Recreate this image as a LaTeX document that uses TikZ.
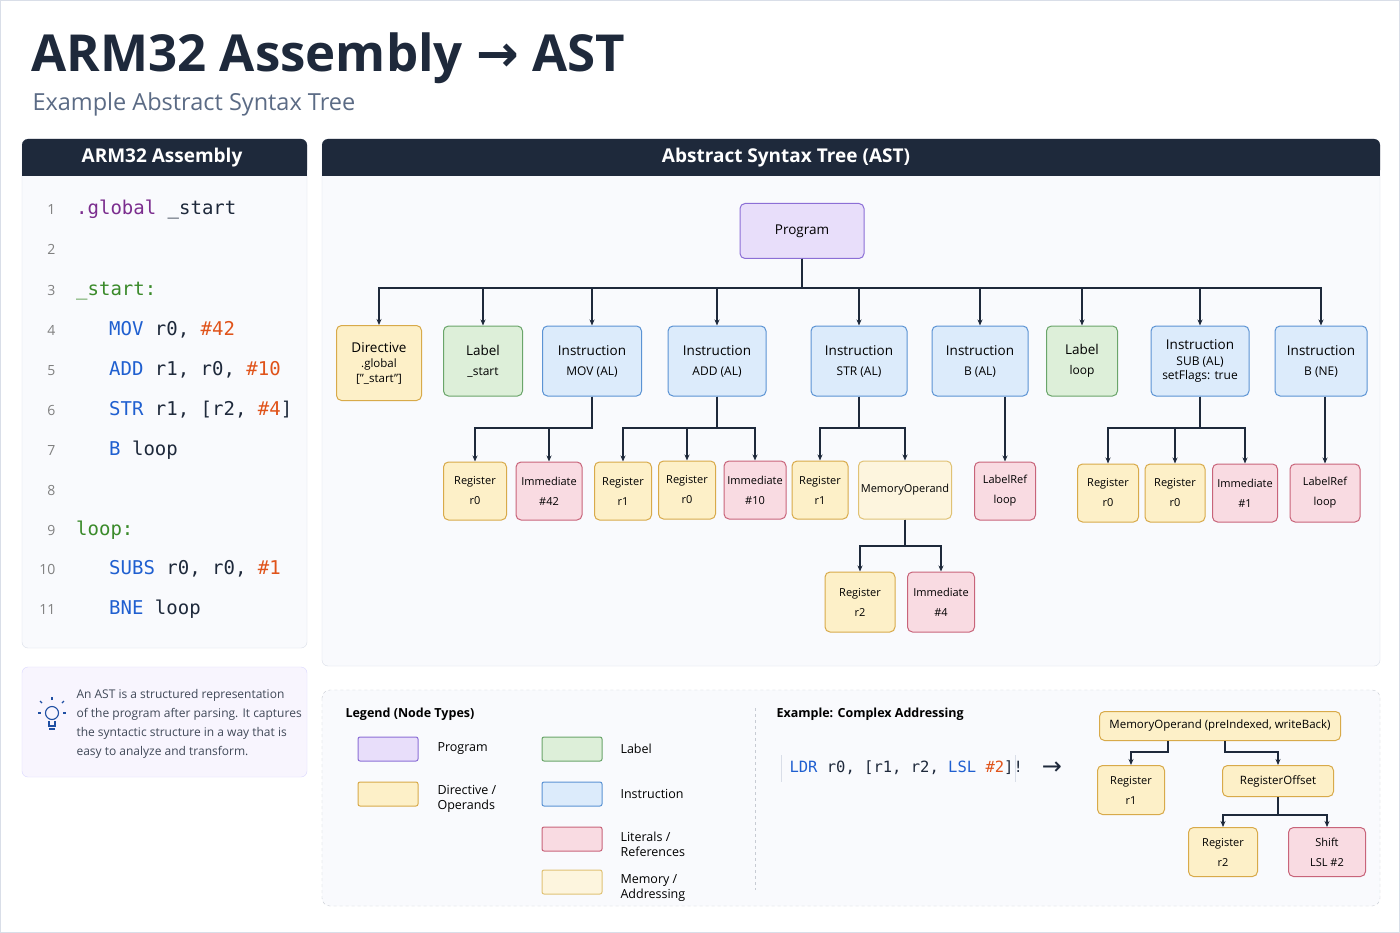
\documentclass[tikz,border=0pt]{standalone}
\usepackage{fontspec}
\setmainfont{Open Sans}
\setmonofont{DejaVu Sans Mono}
\newfontfamily\arrf{DejaVu Sans}
\usetikzlibrary{arrows.meta}
\definecolor{navy}{HTML}{1E293B}
\definecolor{sub}{HTML}{5B6B85}
\definecolor{yF}{HTML}{FDF0C8}\definecolor{yB}{HTML}{D8AA4A}
\definecolor{gF}{HTML}{DDEFD9}\definecolor{gB}{HTML}{6AA56A}
\definecolor{bF}{HTML}{DCEBFB}\definecolor{bB}{HTML}{5B93D4}
\definecolor{pF}{HTML}{F9DBE2}\definecolor{pB}{HTML}{C8647A}
\definecolor{mF}{HTML}{FDF5DE}\definecolor{mB}{HTML}{E0C275}
\definecolor{vF}{HTML}{E8DEFA}\definecolor{vB}{HTML}{8C6FD6}
\definecolor{cDir}{HTML}{7B2D8E}\definecolor{cLab}{HTML}{3A8A2A}
\definecolor{cMn}{HTML}{1F5FD0}\definecolor{cImm}{HTML}{E0531A}
\definecolor{panel}{HTML}{F9FAFD}\definecolor{pline}{HTML}{D9DEE8}
\tikzset{
 box/.style={draw=#1B, fill=#1F, rounded corners=5pt, line width=1pt, align=center, text=black, inner sep=1pt},
 t1/.style={font=\fontsize{13.5}{18}\selectfont},
 t2/.style={font=\fontsize{11}{20}\selectfont},
 arr/.style={draw=navy, line width=1.1pt, -{Stealth[length=6pt,width=5pt]}},
 lnum/.style={anchor=base east, text=gray, font=\fontsize{14}{14}\selectfont},
 code/.style={anchor=base west, inner sep=0pt, font=\ttfamily\fontsize{19}{19}\selectfont, text=navy},
 leg/.style={anchor=west, font=\fontsize{12.5}{15}\selectfont, align=left},
 sw/.style={draw=#1B, fill=#1F, rounded corners=2pt, line width=1pt, minimum width=60pt, minimum height=24pt},
}
\begin{document}
\begin{tikzpicture}[x=1pt,y=-1pt]
\useasboundingbox (0,0) rectangle (1400,933);
\fill[white] (0,0) rectangle (1400,933);
\draw[pline] (0.5,0.5) rectangle (1399.5,932.5);
% title
\node[anchor=base west, font=\bfseries\fontsize{51}{60}\selectfont, text=navy] (title) at (28,72) {ARM32 Assembly {\arrf →} AST};
\node[anchor=base west, font=\fontsize{23.5}{26}\selectfont, text=sub] (subt) at (29,111) {Example Abstract Syntax Tree};
% left panel
\draw[pline, fill=panel, rounded corners=6pt] (22,139) rectangle (307,648);
\fill[navy, rounded corners=6pt] (22,139) rectangle (307,176);
\fill[navy] (22,160) rectangle (307,176);
\node[text=white, font=\bfseries\fontsize{19}{22}\selectfont] (lh) at (162,158) {ARM32 Assembly};
\foreach \n/\y in {1/215,2/255,3/295,4/335,5/375,6/415,7/455,8/495,9/535,10/574,11/614}
  \node[lnum] (ln\n) at (59,\y) {\n};
\node[code] (c1) at (76,215) {\textcolor{cDir}{.global} \_start};
\node[code] (c3) at (76,295) {\textcolor{cLab}{\_start:}};
\node[code] (c4) at (109,335) {\textcolor{cMn}{MOV} r0, \textcolor{cImm}{\#42}};
\node[code] (c5) at (109,375) {\textcolor{cMn}{ADD} r1, r0, \textcolor{cImm}{\#10}};
\node[code] (c6) at (109,415) {\textcolor{cMn}{STR} r1, [r2, \textcolor{cImm}{\#4}]};
\node[code] (c7) at (109,455) {\textcolor{cMn}{B} loop};
\node[code] (c9) at (76,535) {\textcolor{cLab}{loop:}};
\node[code] (c10) at (109,574) {\textcolor{cMn}{SUBS} r0, r0, \textcolor{cImm}{\#1}};
\node[code] (c11) at (109,614) {\textcolor{cMn}{BNE} loop};
% info box
\draw[draw=vF!70!blue!40, fill=vF!30!white, rounded corners=6pt] (22,667) rectangle (307,777);
\begin{scope}[draw=cMn!70!navy, line width=1.1pt]
 \draw (52,713) circle (6.5);
 \draw (49,721) -- (49,726) -- (55,726) -- (55,721);
 \draw (49,729) -- (55,729);
 \draw (52,700) -- (52,697); \draw (42,703) -- (40,701); \draw (62,703) -- (64,701);
 \draw (38,713) -- (41,713); \draw (63,713) -- (66,713);
\end{scope}
\node[anchor=north west, align=left, font=\fontsize{12}{19}\selectfont, text=navy!85] (info) at (73,686) {An AST is a structured representation\\of the program after parsing. It captures\\the syntactic structure in a way that is\\easy to analyze and transform.};
% right panel
\draw[pline, fill=panel, rounded corners=6pt] (322,139) rectangle (1380,666);
\fill[navy, rounded corners=6pt] (322,139) rectangle (1380,176);
\fill[navy] (322,160) rectangle (1380,176);
\node[text=white, font=\bfseries\fontsize{19}{22}\selectfont] (rh) at (786,158) {Abstract Syntax Tree (AST)};
% tree
\node[box=v, t1, minimum width=124, minimum height=55] (prog) at (802,231) {Program};
\node[box=y, t1, minimum width=85, minimum height=75] (dir) at (379,363) {Directive\\[-3pt]{\fontsize{11.5}{14}\selectfont .global}\\[-3pt]{\fontsize{11.5}{14}\selectfont ["\_start"]}};
\node[box=g, t1, minimum width=79, minimum height=70] (lab1) at (483,361) {Label\\[2pt]{\fontsize{12}{14}\selectfont \_start}};
\node[box=b, t1, minimum width=99, minimum height=70] (mov) at (592,361) {Instruction\\[2pt]{\fontsize{12}{14}\selectfont MOV (AL)}};
\node[box=b, t1, minimum width=98, minimum height=70] (add) at (717,361) {Instruction\\[2pt]{\fontsize{12}{14}\selectfont ADD (AL)}};
\node[box=b, t1, minimum width=96, minimum height=70] (str) at (859,361) {Instruction\\[2pt]{\fontsize{12}{14}\selectfont STR (AL)}};
\node[box=b, t1, minimum width=96, minimum height=70] (bal) at (980,361) {Instruction\\[2pt]{\fontsize{12}{14}\selectfont B (AL)}};
\node[box=g, t1, minimum width=71, minimum height=70] (lab2) at (1082,361) {Label\\[2pt]{\fontsize{12}{14}\selectfont loop}};
\node[box=b, t1, minimum width=98, minimum height=70] (subs) at (1200,361) {Instruction\\[-2pt]{\fontsize{12}{14}\selectfont SUB (AL)}\\[-4pt]{\fontsize{12}{14}\selectfont setFlags: true}};
\node[box=b, t1, minimum width=92, minimum height=70] (bne) at (1321,361) {Instruction\\[2pt]{\fontsize{12}{14}\selectfont B (NE)}};
\coordinate (bus) at (802,288);
\foreach \c in {dir,lab1,mov,add,str,bal,lab2,subs,bne}
  \draw[arr] (prog.south) -- (bus) -| (\c.north);
% level 2
\node[box=y, t2, minimum width=63, minimum height=58] (r0a) at (475,491) {Register\\r0};
\node[box=p, t2, minimum width=66, minimum height=58] (i42) at (549,491) {Immediate\\\#42};
\node[box=y, t2, minimum width=57, minimum height=58] (r1a) at (623,491) {Register\\r1};
\node[box=y, t2, minimum width=57, minimum height=58] (r0b) at (687,490) {Register\\r0};
\node[box=p, t2, minimum width=62, minimum height=58] (i10) at (755,490) {Immediate\\\#10};
\node[box=y, t2, minimum width=56, minimum height=58] (r1b) at (820,490) {Register\\r1};
\node[box=m, t2, minimum width=93, minimum height=58] (mem) at (905,490) {MemoryOperand};
\node[box=p, t2, minimum width=61, minimum height=58] (lr1) at (1005,491) {LabelRef\\loop};
\node[box=y, t2, minimum width=61, minimum height=58] (r0c) at (1108,493) {Register\\r0};
\node[box=y, t2, minimum width=60, minimum height=58] (r0d) at (1175,493) {Register\\r0};
\node[box=p, t2, minimum width=65, minimum height=58] (i1) at (1245,493) {Immediate\\\#1};
\node[box=p, t2, minimum width=70, minimum height=58] (lr2) at (1325,493) {LabelRef\\loop};
\node[box=y, t2, minimum width=70, minimum height=60] (r2) at (860,602) {Register\\r2};
\node[box=p, t2, minimum width=67, minimum height=60] (i4) at (941,602) {Immediate\\\#4};
\coordinate (bmov) at (592,428); \coordinate (badd) at (717,428);
\coordinate (bstr) at (859,428); \coordinate (bsub) at (1200,428);
\coordinate (bmem) at (905,546);
\foreach \c in {r0a,i42} \draw[arr] (mov.south) -- (bmov) -| (\c.north);
\foreach \c in {r1a,r0b,i10} \draw[arr] (add.south) -- (badd) -| (\c.north);
\foreach \c in {r1b,mem} \draw[arr] (str.south) -- (bstr) -| (\c.north);
\foreach \c in {r0c,r0d,i1} \draw[arr] (subs.south) -- (bsub) -| (\c.north);
\foreach \c in {r2,i4} \draw[arr] (mem.south) -- (bmem) -| (\c.north);
\draw[arr] (bal.south -| lr1.north) -- (lr1.north);
\draw[arr] (bne.south -| lr2.north) -- (lr2.north);
% legend
\draw[pline!80!gray, dashed, fill=panel, rounded corners=8pt] (322,690) rectangle (1380,906);
\node[anchor=base west, font=\bfseries\fontsize{12.5}{15}\selectfont] (legt) at (342,717) {Legend (Node Types)};
\node[sw=v] (s1) at (388,749) {}; \node[leg] (l1) at (434,749) {Program};
\node[sw=y] (s2) at (388,794) {}; \node[leg] (l2) at (434,799) {Directive /\\Operands};
\node[sw=g] (s3) at (572,749) {}; \node[leg] (l3) at (617,749) {Label};
\node[sw=b] (s4) at (572,794) {}; \node[leg] (l4) at (617,794) {Instruction};
\node[sw=p] (s5) at (572,839) {}; \node[leg] (l5) at (617,844) {Literals /\\References};
\node[sw=m] (s6) at (572,882) {}; \node[leg] (l6) at (617,888) {Memory /\\Addressing};
\draw[pline!80!gray, dashed] (755,708) -- (755,890);
\node[anchor=base west, font=\bfseries\fontsize{12.5}{15}\selectfont] (ext) at (773,717) {Example: Complex Addressing};
\draw[pline] (781,755) -- (781,782); \draw[pline] (1015,755) -- (1015,782);
\node[anchor=west, font=\ttfamily\fontsize{15.5}{18}\selectfont, text=navy] (ldr) at (786,768) {\textcolor{cMn}{LDR} r0, [r1, r2, \textcolor{cMn}{LSL} \textcolor{cImm}{\#2}]!};
\node[font=\arrf\fontsize{24}{24}\selectfont, text=navy] (to) at (1052,768) {→};
\node[box=y, font=\fontsize{11.5}{14}\selectfont, minimum width=241, minimum height=29] (mo) at (1220,726) {MemoryOperand (preIndexed, writeBack)};
\node[box=y, t2, minimum width=67, minimum height=49] (er1) at (1131,790) {Register\\r1};
\node[box=y, font=\fontsize{11.5}{14}\selectfont, minimum width=111, minimum height=31] (ro) at (1278,781) {RegisterOffset};
\node[box=y, t2, minimum width=69, minimum height=49] (er2) at (1223,852) {Register\\r2};
\node[box=p, t2, minimum width=77, minimum height=49] (sh) at (1327,852) {Shift\\LSL \#2};
\coordinate (m1) at (1168,752); \coordinate (m2) at (1225,752); \coordinate (m3) at (1278,815);
\draw[arr] (mo.south -| m1) -- (m1) -| (er1.north);
\draw[arr] (mo.south -| m2) -- (m2) -| (ro.north);
\draw[arr] (ro.south) -- (m3) -| (er2.north);
\draw[arr] (ro.south) -- (m3) -| (sh.north);
\end{tikzpicture}
\end{document}
